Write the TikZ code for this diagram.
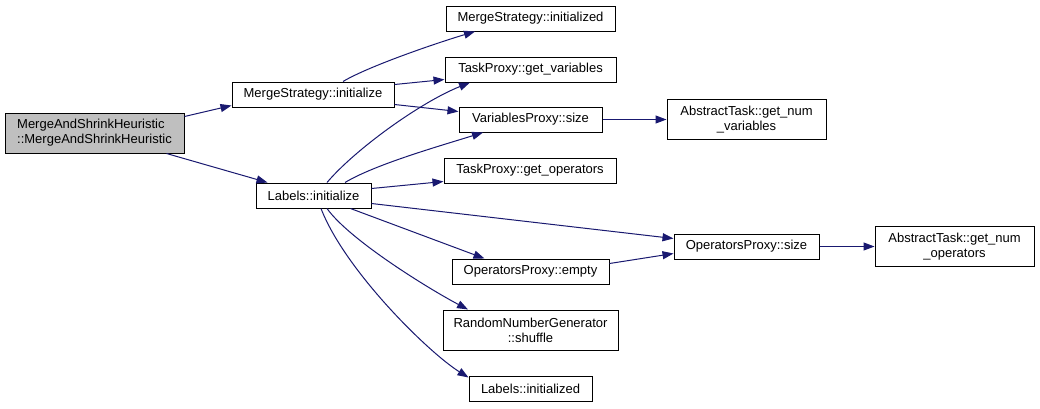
\documentclass[tikz,border=0pt]{standalone}
\usepackage{fontspec}
\setmainfont{Liberation Sans}
\usetikzlibrary{arrows.meta}
\definecolor{edgeblue}{HTML}{191970}
\definecolor{rootgray}{HTML}{BFBFBF}
\begin{document}
\begin{tikzpicture}[x=1pt,y=-1pt,
  fn/.style={draw=black,line width=1pt,fill=white,inner sep=0pt,align=center,
    font=\fontsize{13}{15}\selectfont},
  root/.style={fn,fill=rootgray,align=left},
  call/.style={draw=edgeblue,line width=1pt,-{Triangle[length=11pt,width=8pt]}}]
\fill[white] (0,0) rectangle (1040,408);
\useasboundingbox (0,0) rectangle (1040,408);
% nodes
\node[root,minimum width=179pt,minimum height=40pt] (msh) at (94.5,133) {MergeAndShrinkHeuristic\\::MergeAndShrinkHeuristic};
\node[fn,minimum width=162pt,minimum height=25pt] (msi) at (313,94.5) {MergeStrategy::initialize};
\node[fn,minimum width=115pt,minimum height=25pt] (li) at (313.5,195.5) {Labels::initialize};
\node[fn,minimum width=169pt,minimum height=25pt] (msid) at (530.5,18.5) {MergeStrategy::initialized};
\node[fn,minimum width=171pt,minimum height=25pt] (tpgv) at (530.5,69.5) {TaskProxy::get\_variables};
\node[fn,minimum width=143pt,minimum height=25pt] (vps) at (530.5,119.5) {VariablesProxy::size};
\node[fn,minimum width=159pt,minimum height=40pt] (atgnv) at (746.5,119.5) {AbstractTask::get\_num\\\_variables};
\node[fn,minimum width=172pt,minimum height=25pt] (tpgo) at (530,170.5) {TaskProxy::get\_operators};
\node[fn,minimum width=145pt,minimum height=25pt] (ops) at (746.5,246.5) {OperatorsProxy::size};
\node[fn,minimum width=159pt,minimum height=40pt] (atgno) at (954.5,246.5) {AbstractTask::get\_num\\\_operators};
\node[fn,minimum width=157pt,minimum height=25pt] (ope) at (530.5,271.5) {OperatorsProxy::empty};
\node[fn,minimum width=175pt,minimum height=40pt] (rng) at (530.5,330) {RandomNumberGenerator\\::shuffle};
\node[fn,minimum width=123pt,minimum height=25pt] (lid) at (530.5,388.5) {Labels::initialized};
% edges
\draw[call] ([yshift=-4pt]msh.north east) -- ([yshift=2pt]msi.south west);
\draw[call] ([xshift=-18pt]msh.south east) -- ([xshift=12pt]li.north west);
\draw[call] ([xshift=30pt]msi.north) .. controls +(25,-15) and +(-40,12) .. ([xshift=-55.5pt]msid.south);
\draw[call] ([yshift=-3pt]msi.north east) -- ([yshift=3pt]tpgv.south west);
\draw[call] ([yshift=3pt]msi.south east) -- ([yshift=-5pt]vps.north west);
\draw[call] ([xshift=13.5pt]li.north) .. controls +(28,-33) and +(-50,20) .. ([xshift=-60.5pt]tpgv.south);
\draw[call] ([xshift=31.5pt]li.north) .. controls +(30,-18) and +(-45,14) .. ([xshift=-47.5pt]vps.south);
\draw[call] ([yshift=-6pt]li.north east) -- ([yshift=2pt]tpgo.south west);
\draw[call] ([yshift=5pt]li.south east) -- ([yshift=-5pt]ops.north west);
\draw[call] ([xshift=37pt]li.south) -- ([xshift=-46pt]ope.north);
\draw[call] ([xshift=13.5pt]li.south) .. controls +(23,32) and +(-38,-20) .. ([xshift=-62.5pt]rng.north);
\draw[call] ([xshift=7.5pt]li.south) .. controls +(24,62) and +(-40,-25) .. ([yshift=-2pt]lid.north west);
\draw[call] (vps.east) -- (vps.east -| atgnv.west);
\draw[call] ([yshift=-5pt]ope.north east) -- ([yshift=6pt]ops.south west);
\draw[call] (ops.east) -- (ops.east -| atgno.west);
\end{tikzpicture}
\end{document}
